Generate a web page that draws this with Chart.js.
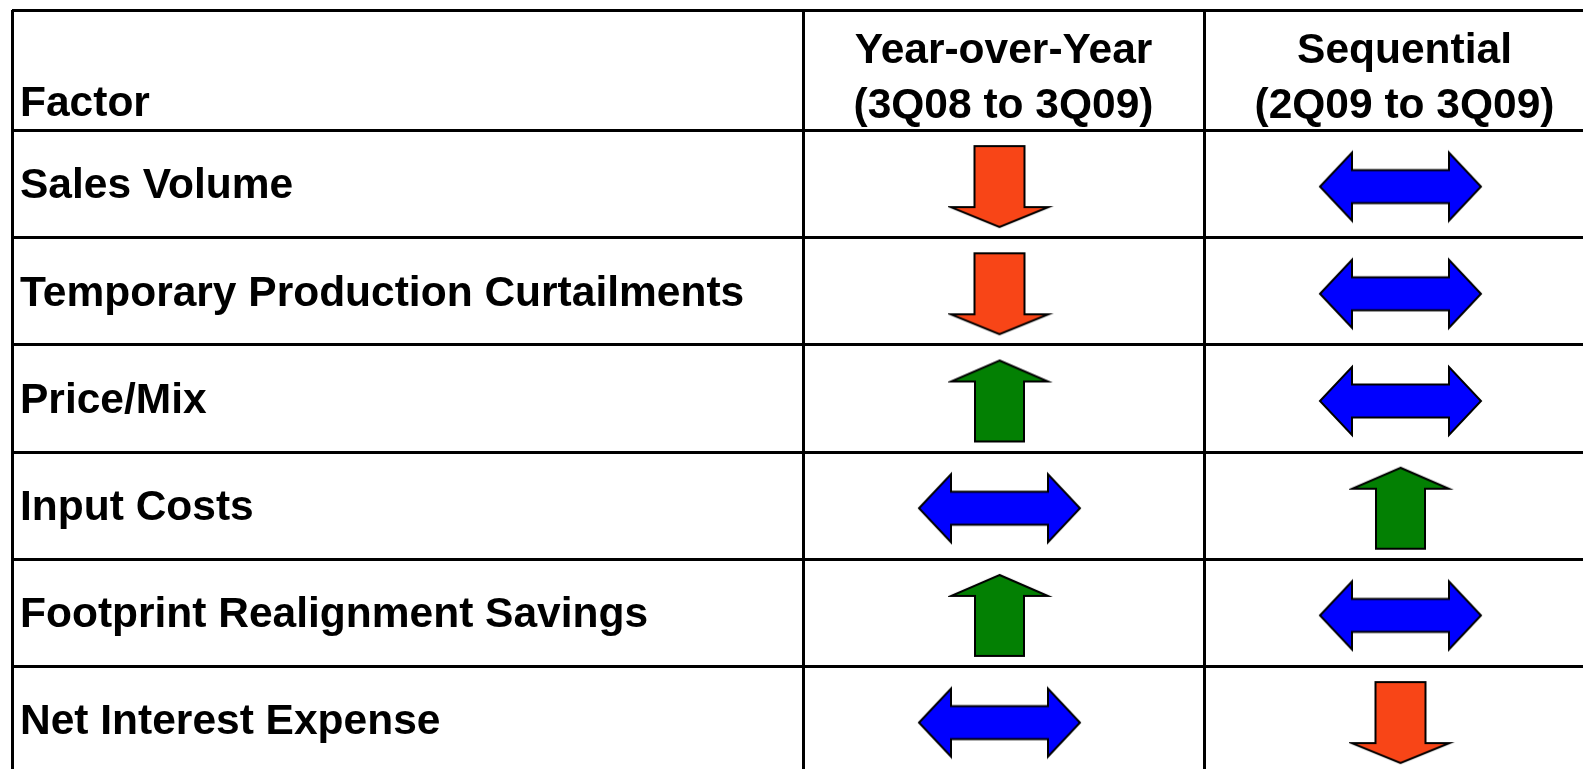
<!DOCTYPE html>
<html>
<head>
<meta charset="utf-8">
<script src="https://cdn.jsdelivr.net/npm/chart.js@4"></script>
<style>
  html, body { margin: 0; padding: 0; background: #fff; overflow: hidden; }
  #wrap { width: 1583px; height: 769px; position: relative; }
</style>
</head>
<body>
<div id="wrap"><canvas id="tbl"></canvas></div>
<script>
/* ── Data ── */
const FACTORS = ['Sales Volume', 'Temporary Production Curtailments', 'Price/Mix', 'Input Costs', 'Footprint Realignment Savings', 'Net Interest Expense'];
const HEADERS = [['Factor'], ['Year-over-Year', '(3Q08 to 3Q09)'], ['Sequential', '(2Q09 to 3Q09)']];
// direction: 1 = up (favourable), -1 = down (unfavourable), 0 = no change
const YOY_DIR = [-1, -1, 1, 0, 1, 0];
const SEQ_DIR = [0, 0, 0, 1, 0, -1];

/* ── Layout ── */
const FACTOR_COL_W = 791, DIR_COL_W = 401, HEAD_H = 120, ROW_H = 107.2;
const FONT = 'bold 42.5px "Liberation Sans", Arial, sans-serif';
const ARROW_COLORS = { '1': '#038003', '-1': '#f84517', '0': '#0000ff' };

/* Arrow shapes drawn once on small canvases, used as point styles.
   The shape sits a little left of / below the canvas centre, like the original slide. */
function arrowCanvas(dir) {
  const pad = 3, nudgeX = 4, nudgeY = 3;
  let w, h, pts;
  if (dir === 0) {
    w = 161; h = 68;
    pts = [[0,34],[32,0],[32,17.5],[129,17.5],[129,0],[161,34],[129,68],[129,50.5],[32,50.5],[32,68]];
  } else if (dir < 0) {
    w = 98; h = 81;
    pts = [[24,0],[74,0],[74,61],[98,61],[49,81],[0,61],[24,61]];
  } else {
    w = 97; h = 81;
    pts = [[48.5,0],[97,21],[73,21],[73,81],[24,81],[24,21],[0,21]];
  }
  const c = document.createElement('canvas');
  c.width = w + pad * 2 + nudgeX * 2; c.height = h + pad * 2 + nudgeY * 2;
  const ctx = c.getContext('2d');
  ctx.translate(pad, pad + nudgeY * 2);
  ctx.beginPath();
  pts.forEach((p, i) => i ? ctx.lineTo(p[0], p[1]) : ctx.moveTo(p[0], p[1]));
  ctx.closePath();
  ctx.fillStyle = ARROW_COLORS[String(dir)];
  ctx.fill();
  ctx.lineWidth = 2;
  ctx.lineJoin = 'miter';
  ctx.strokeStyle = '#000';
  ctx.stroke();
  return c;
}
const ARROWS = { '1': arrowCanvas(1), '-1': arrowCanvas(-1), '0': arrowCanvas(0) };

const toPoints = (dirs, col) => dirs.map((d, i) => ({ x: col + 0.5, y: i + 0.5, dir: d }));

const tablePlugin = {
  id: 'tableGrid',
  beforeDatasetsDraw(chart) {
    const { ctx, chartArea: a, scales: { x, y } } = chart;
    ctx.save();
    ctx.strokeStyle = '#000';
    ctx.lineWidth = 3;
    ctx.beginPath();
    const hLines = [y.min].concat(FACTORS.map((_, i) => i));
    hLines.forEach(v => {
      const py = Math.round(y.getPixelForValue(v)) + 0.5;
      ctx.moveTo(a.left, py); ctx.lineTo(a.right, py);
    });
    [x.min, 0, 1].forEach(v => {
      const px = Math.round(x.getPixelForValue(v)) + 0.5;
      ctx.moveTo(px, a.top); ctx.lineTo(px, a.bottom);
    });
    ctx.stroke();
    ctx.restore();
  },
  afterDatasetsDraw(chart) {
    const { ctx, scales: { x, y } } = chart;
    ctx.save();
    ctx.font = FONT;
    ctx.fillStyle = '#000';
    ctx.textBaseline = 'alphabetic';
    const headBottom = y.getPixelForValue(0);
    // header
    ctx.textAlign = 'left';
    ctx.fillText(HEADERS[0][0], x.getPixelForValue(x.min) + 8, headBottom - 14);
    ctx.textAlign = 'center';
    [1, 2].forEach(c => {
      const cx = x.getPixelForValue(c - 0.5);
      ctx.fillText(HEADERS[c][0], cx, headBottom - 67);
      ctx.fillText(HEADERS[c][1], cx, headBottom - 12);
    });
    // factor names
    ctx.textAlign = 'left';
    ctx.textBaseline = 'middle';
    FACTORS.forEach((f, i) => {
      ctx.fillText(f, x.getPixelForValue(x.min) + 8, y.getPixelForValue(i + 0.5) + 3);
    });
    ctx.restore();
  }
};

new Chart(document.getElementById('tbl'), {
  type: 'scatter',
  data: {
    datasets: [
      { label: 'Year-over-Year', data: toPoints(YOY_DIR, 0) },
      { label: 'Sequential', data: toPoints(SEQ_DIR, 1) }
    ]
  },
  options: {
    responsive: true, maintainAspectRatio: false, animation: false,
    layout: { autoPadding: false, padding: { left: 12, top: 10, right: 0, bottom: 0 } },
    elements: {
      point: {
        radius: 5, hoverRadius: 5,
        pointStyle: ctx => ctx.raw ? ARROWS[String(ctx.raw.dir)] : 'circle'
      }
    },
    plugins: { legend: { display: false }, tooltip: { enabled: false } },
    scales: {
      x: { type: 'linear', display: false, min: -FACTOR_COL_W / DIR_COL_W, max: (1571 - FACTOR_COL_W) / DIR_COL_W },
      y: { type: 'linear', display: false, reverse: true, min: -HEAD_H / ROW_H, max: (759 - HEAD_H) / ROW_H }
    }
  },
  plugins: [tablePlugin]
});
</script>
</body>
</html>
